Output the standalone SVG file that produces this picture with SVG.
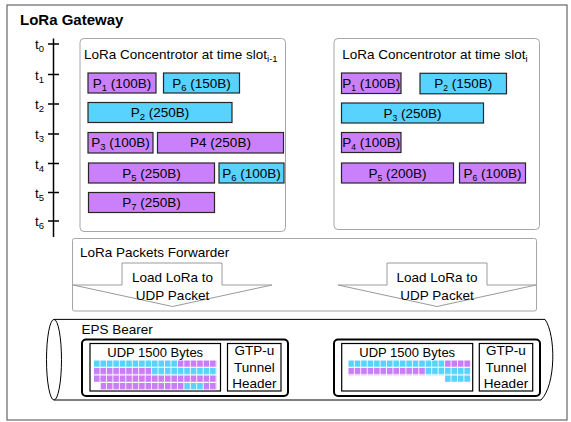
<svg xmlns="http://www.w3.org/2000/svg" width="571" height="422" viewBox="0 0 571 422">
<style>
text{font-family:"Liberation Sans",Arial,sans-serif;font-size:13.5px;fill:#000}
.ttl{font-weight:bold;font-size:15px}
.box{fill:#fff;stroke:#a6a6a6;stroke-width:1}
.pu{fill:#cb80fb;stroke:#262626;stroke-width:1.2}
.cy{fill:#58d2fe;stroke:#262626;stroke-width:1.2}
.mid{text-anchor:middle}
.sub{font-size:9.5px}
.sm{font-size:12px}
.sm .sub{font-size:8.5px}
.arr{fill:#fff;stroke:#9a9a9a;stroke-width:1}
.tl{stroke:#000;stroke-width:1.5;fill:none}
.thick{fill:#fff;stroke:#000;stroke-width:2}
.thin{fill:#fff;stroke:#000;stroke-width:1.2}
</style>
<defs>
<pattern id="cyL" patternUnits="userSpaceOnUse" x="94" y="360.3" width="6.45" height="7.55"><rect width="5.6" height="6.4" fill="#5ad3fb"/></pattern>
<pattern id="puL" patternUnits="userSpaceOnUse" x="94" y="360.3" width="6.45" height="7.55"><rect width="5.6" height="6.4" fill="#c97ef6"/></pattern>
<pattern id="cyR" patternUnits="userSpaceOnUse" x="348.3" y="360.3" width="6.45" height="7.55"><rect width="5.6" height="6.4" fill="#5ad3fb"/></pattern>
<pattern id="puR" patternUnits="userSpaceOnUse" x="348.3" y="360.3" width="6.45" height="7.55"><rect width="5.6" height="6.4" fill="#c97ef6"/></pattern>
</defs>

<g id="gateway">
<rect x="7" y="5" width="560" height="415" fill="#fff" stroke="#666" stroke-width="1.2"/>
<text class="ttl" x="20" y="24.5">LoRa Gateway</text>
</g>

<g id="timeline">
<line class="tl" x1="53.5" y1="38.5" x2="53.5" y2="237"/>
<path class="tl" d="M48,44H59M48,74.5H59M48,104H59M48,134H59M48,163.5H59M48,192.5H59M48,221H59"/>
<text x="35" y="49">t<tspan class="sub" dy="3">0</tspan></text>
<text x="35" y="79.5">t<tspan class="sub" dy="3">1</tspan></text>
<text x="35" y="109">t<tspan class="sub" dy="3">2</tspan></text>
<text x="35" y="139">t<tspan class="sub" dy="3">3</tspan></text>
<text x="35" y="168.5">t<tspan class="sub" dy="3">4</tspan></text>
<text x="35" y="197.5">t<tspan class="sub" dy="3">5</tspan></text>
<text x="35" y="226">t<tspan class="sub" dy="3">6</tspan></text>
</g>

<g id="concentrator-prev">
<rect class="box" x="80" y="38.5" width="205.5" height="193" rx="4"/>
<text x="84" y="58.5">LoRa Concentrotor at time slot<tspan class="sub" dy="3">i-1</tspan></text>
<rect class="pu" x="88" y="73" width="68" height="20"/>
<text class="mid" x="122" y="87.8">P<tspan class="sub" dy="3">1</tspan><tspan dy="-3"> (100B)</tspan></text>
<rect class="cy" x="163.5" y="73" width="76" height="20"/>
<text class="mid" x="201.5" y="87.8">P<tspan class="sub" dy="3">6</tspan><tspan dy="-3"> (150B)</tspan></text>
<rect class="cy" x="88" y="102.5" width="144" height="20"/>
<text class="mid" x="160" y="117.3">P<tspan class="sub" dy="3">2</tspan><tspan dy="-3"> (250B)</tspan></text>
<rect class="pu" x="88" y="132.5" width="65" height="20.5"/>
<text class="mid" x="120.5" y="147.3">P<tspan class="sub" dy="3">3</tspan><tspan dy="-3"> (100B)</tspan></text>
<rect class="pu" x="157.5" y="132.5" width="126" height="20.5"/>
<text class="mid" x="220.5" y="147.3">P4 (250B)</text>
<rect class="pu" x="88.5" y="163" width="126" height="20"/>
<text class="mid" x="151.5" y="177.8">P<tspan class="sub" dy="3">5</tspan><tspan dy="-3"> (250B)</tspan></text>
<rect class="cy" x="219" y="163" width="65" height="20"/>
<text class="mid" x="251.5" y="177.8">P<tspan class="sub" dy="3">6</tspan><tspan dy="-3"> (100B)</tspan></text>
<rect class="pu" x="88.5" y="192.5" width="126" height="20"/>
<text class="mid" x="151.5" y="207.3">P<tspan class="sub" dy="3">7</tspan><tspan dy="-3"> (250B)</tspan></text>
</g>

<g id="concentrator-cur">
<rect class="box" x="334" y="38.5" width="205.5" height="191" rx="4"/>
<text x="342.3" y="58.5">LoRa Concentrotor at time slot<tspan class="sub" dy="3">i</tspan></text>
<g class="sm">
<rect class="pu" x="341.5" y="73" width="59.5" height="20.5"/>
<text class="mid" x="371.3" y="87.8">P<tspan class="sub" dy="3">1</tspan><tspan dy="-3"> (100B)</tspan></text>
<rect class="cy" x="420" y="73.3" width="86.5" height="20.5"/>
<text class="mid" x="463.3" y="87.8">P<tspan class="sub" dy="3">2</tspan><tspan dy="-3"> (150B)</tspan></text>
<rect class="cy" x="341.5" y="103" width="142" height="20"/>
<text class="mid" x="412.5" y="117.8">P<tspan class="sub" dy="3">3</tspan><tspan dy="-3"> (250B)</tspan></text>
<rect class="pu" x="341.5" y="132.5" width="59.5" height="20"/>
<text class="mid" x="371.3" y="147.3">P<tspan class="sub" dy="3">4</tspan><tspan dy="-3"> (100B)</tspan></text>
<rect class="pu" x="341.5" y="163" width="112" height="20"/>
<text class="mid" x="397.5" y="177.8">P<tspan class="sub" dy="3">5</tspan><tspan dy="-3"> (200B)</tspan></text>
<rect class="pu" x="459.5" y="163" width="66" height="20"/>
<text class="mid" x="492.5" y="177.8">P<tspan class="sub" dy="3">6</tspan><tspan dy="-3"> (100B)</tspan></text>
</g>
</g>

<g id="forwarder">
<rect class="box" x="72.5" y="238.5" width="464" height="72.5" rx="2"/>
<text x="80" y="257">LoRa Packets Forwarder</text>
</g>

<g id="connectors">
<polygon class="arr" points="122,263 222,263 222,285 272,285 172.5,306.5 73,285 122,285"/>
<polygon class="arr" points="387,263 487,263 487,285 536,285 437,306.5 338,285 387,285"/>
</g>
<g id="load-left">
<text class="mid" x="172.5" y="282">Load LoRa to</text>
<text class="mid" x="172.5" y="299.5">UDP Packet</text>
</g>
<g id="load-right">
<text class="mid" x="437" y="282">Load LoRa to</text>
<text class="mid" x="437" y="299.5">UDP Packet</text>
</g>

<g id="eps-bearer">
<path d="M54,319.4H545C556,335 556,385 541,400H54Z" fill="#fff" stroke="#000" stroke-width="1"/>
<ellipse cx="54" cy="359.7" rx="7.5" ry="40.3" fill="#fff" stroke="#000" stroke-width="1"/>
<text x="81.5" y="333.5">EPS Bearer</text>
</g>

<g id="packet-left">
<rect class="thick" x="82" y="339.5" width="206" height="56.5" rx="4"/>
<rect class="thin" x="90" y="343.5" width="130.5" height="47.5"/>
<rect class="thin" x="227.5" y="343.5" width="53.5" height="47.5"/>
<text class="mid" x="155.2" y="356.5" style="font-size:13px">UDP 1500 Bytes</text>
<text class="mid" x="254.3" y="355.3">GTP-u</text>
<text class="mid" x="254.3" y="371.8">Tunnel</text>
<text class="mid" x="254.3" y="388.3">Header</text>
<rect x="94" y="360.3" width="83.85" height="7.55" fill="url(#cyL)"/>
<rect x="177.85" y="360.3" width="38.7" height="7.55" fill="url(#puL)"/>
<rect x="94" y="367.85" width="58.05" height="7.55" fill="url(#puL)"/>
<rect x="152.05" y="367.85" width="64.5" height="7.55" fill="url(#cyL)"/>
<rect x="94" y="375.4" width="122.55" height="7.55" fill="url(#puL)"/>
<rect x="100.45" y="382.95" width="83.85" height="7.55" fill="url(#puL)"/>
<rect x="184.3" y="382.95" width="19.35" height="7.55" fill="url(#cyL)"/>
<rect x="203.65" y="382.95" width="12.9" height="7.55" fill="url(#puL)"/>
</g>

<g id="packet-right">
<rect class="thick" x="334" y="339.5" width="206" height="56.5" rx="4"/>
<rect class="thin" x="341.7" y="343.5" width="131" height="47.5"/>
<rect class="thin" x="479.3" y="343.5" width="53.4" height="47.5"/>
<text class="mid" x="407.2" y="356.5" style="font-size:13px">UDP 1500 Bytes</text>
<text class="mid" x="506" y="355.3">GTP-u</text>
<text class="mid" x="506" y="371.8">Tunnel</text>
<text class="mid" x="506" y="388.3">Header</text>
<rect x="348.3" y="360.3" width="96.75" height="7.55" fill="url(#cyR)"/>
<rect x="445.05" y="360.3" width="25.8" height="7.55" fill="url(#puR)"/>
<rect x="348.3" y="367.85" width="77.4" height="7.55" fill="url(#puR)"/>
<rect x="425.7" y="367.85" width="45.15" height="7.55" fill="url(#cyR)"/>
<rect x="445.05" y="375.4" width="25.8" height="7.55" fill="url(#cyR)"/>
</g>
</svg>
